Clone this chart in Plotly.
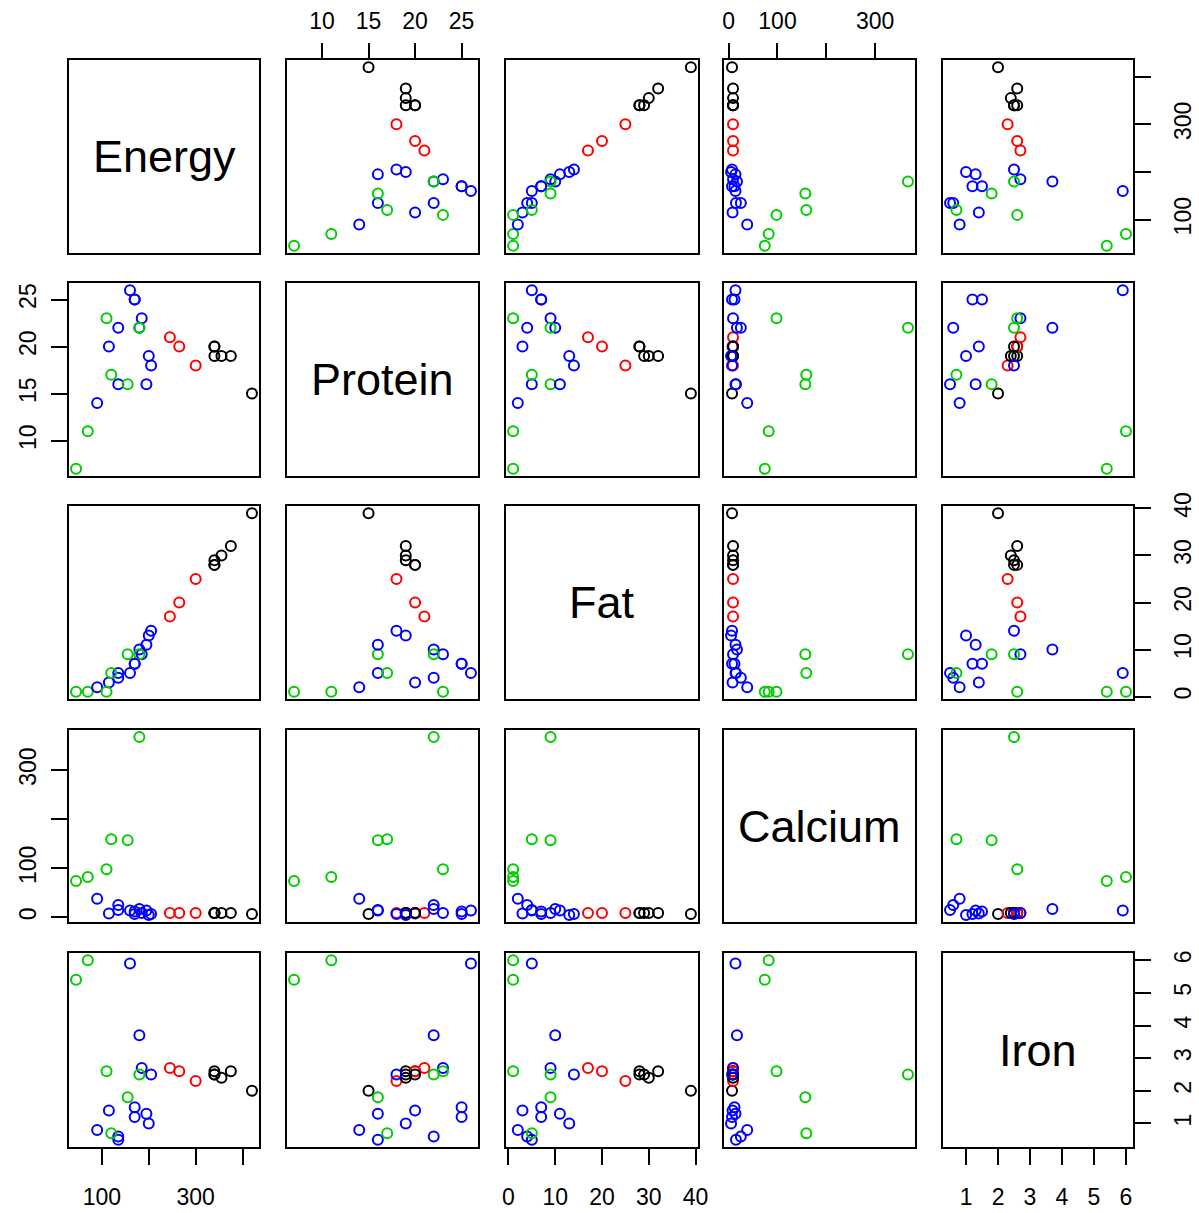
import plotly.graph_objects as go

# Nutrient data (27 foods) and cluster membership
foods = ["Beef braised", "Hamburger", "Beef roast", "Beef steak", "Beef canned",
         "Chicken broiled", "Chicken canned", "Beef heart", "Lamb leg roast",
         "Lamb shoulder roast", "Smoked ham", "Pork roast", "Pork simmered",
         "Beef tongue", "Veal cutlet", "Bluefish baked", "Clams raw", "Clams canned",
         "Crabmeat canned", "Haddock fried", "Mackerel broiled", "Mackerel canned",
         "Perch fried", "Salmon canned", "Sardines canned", "Tuna canned",
         "Shrimp canned"]
energy = [340, 245, 420, 375, 180, 115, 170, 160, 265, 300, 340, 340, 355, 205, 185,
          135, 70, 45, 90, 135, 200, 155, 195, 120, 180, 170, 110]
protein = [20, 21, 15, 19, 22, 20, 25, 26, 20, 18, 20, 19, 19, 18, 23,
           22, 11, 7, 14, 16, 19, 16, 16, 17, 22, 25, 23]
fat = [28, 17, 39, 32, 10, 3, 7, 5, 20, 25, 28, 29, 30, 14, 9,
       4, 1, 1, 2, 5, 13, 9, 11, 5, 9, 7, 1]
calcium = [9, 9, 7, 9, 17, 8, 12, 14, 9, 9, 9, 9, 9, 7, 9,
           25, 82, 74, 38, 15, 5, 157, 14, 159, 367, 7, 98]
iron = [2.6, 2.7, 2.0, 2.6, 3.7, 1.4, 1.5, 5.9, 2.6, 2.3, 2.5, 2.5, 2.4, 2.5, 2.7,
        0.6, 6.0, 5.4, 0.8, 0.5, 1.0, 1.8, 1.3, 0.7, 2.5, 1.2, 2.6]
cluster = [1, 2, 1, 1, 4, 4, 4, 4, 2, 2, 1, 1, 1, 4, 4,
           4, 3, 3, 4, 4, 4, 3, 4, 3, 3, 4, 3]

var_names = ["Energy", "Protein", "Fat", "Calcium", "Iron"]
var_data = [energy, protein, fat, calcium, iron]
tick_vals = [[100, 200, 300, 400], [10, 15, 20, 25], [0, 10, 20, 30, 40],
             [0, 100, 200, 300], [1, 2, 3, 4, 5, 6]]
tick_text = [["100", "", "300", ""], ["10", "15", "20", "25"],
             ["0", "10", "20", "30", "40"], ["0", "100", "", "300"],
             ["1", "2", "3", "4", "5", "6"]]
cluster_colors = {1: "#000000", 2: "#FF0000", 3: "#00CD00", 4: "#0000FF"}

W, H = 1199, 1213
col_px = [(69, 259), (287, 478), (506, 698), (724, 915), (943, 1133)]
row_px = [(60, 253), (283, 476), (506, 699), (730, 922), (953, 1147)]
ml, mr, mt, mb = 69, W - 1133, 60, H - 1147
pw, ph = W - ml - mr, H - mt - mb


def xdom(c):
    a, b = col_px[c]
    return [(a - ml) / pw, (b - ml) / pw]


def ydom(r):
    a, b = row_px[r]
    return [1 - (b - mt) / ph, 1 - (a - mt) / ph]


def rng(v):
    lo, hi = min(v), max(v)
    pad = (hi - lo) * 0.04
    return [lo - pad, hi + pad]


font = dict(family="Arial, Liberation Sans, sans-serif", size=23, color="#000000")
fig = go.Figure()
layout = dict(width=W, height=H, margin=dict(l=ml, r=mr, t=mt, b=mb, pad=0),
              paper_bgcolor="white", plot_bgcolor="white", showlegend=False,
              font=font, template="none")
annotations = []
colors = [cluster_colors[k] for k in cluster]

for r in range(5):
    for c in range(5):
        k = r * 5 + c + 1
        sfx = "" if k == 1 else str(k)
        xa = dict(domain=xdom(c), anchor="y" + sfx, range=rng(var_data[c]),
                  showgrid=False, zeroline=False, showline=True, mirror=True,
                  linecolor="black", linewidth=2, ticks="", showticklabels=False,
                  tickvals=tick_vals[c], ticktext=tick_text[c], fixedrange=True,
                  automargin=False)
        ya = dict(domain=ydom(r), anchor="x" + sfx, range=rng(var_data[r]),
                  showgrid=False, zeroline=False, showline=True, mirror=True,
                  linecolor="black", linewidth=2, ticks="", showticklabels=False,
                  tickvals=tick_vals[r], ticktext=tick_text[r], fixedrange=True,
                  automargin=False)
        if r == 0 and c in (1, 3):
            xa.update(side="top", ticks="outside", ticklen=15, tickwidth=2,
                      tickcolor="black", showticklabels=True, ticklabelstandoff=5)
        if r == 4 and c in (0, 2, 4):
            xa.update(side="bottom", ticks="outside", ticklen=16, tickwidth=2,
                      tickcolor="black", showticklabels=True, ticklabelstandoff=12)
        if c == 0 and r in (1, 3):
            ya.update(side="left", ticks="outside", ticklen=16, tickwidth=2,
                      tickcolor="black", showticklabels=True, tickangle=-90,
                      ticklabelstandoff=6)
        if c == 4 and r in (0, 2, 4):
            ya.update(side="right", ticks="outside", ticklen=16, tickwidth=2,
                      tickcolor="black", showticklabels=True, tickangle=-90,
                      ticklabelstandoff=12)
        layout["xaxis" + sfx] = xa
        layout["yaxis" + sfx] = ya
        if r == c:
            xd, yd = xdom(c), ydom(r)
            annotations.append(dict(text=var_names[r], xref="paper", yref="paper",
                                    x=(xd[0] + xd[1]) / 2, y=(yd[0] + yd[1]) / 2,
                                    xanchor="center", yanchor="middle",
                                    showarrow=False,
                                    font=dict(family="Arial, Liberation Sans, sans-serif",
                                              size=45, color="black")))
            fig.add_trace(go.Scatter(x=[None], y=[None], mode="markers",
                                     xaxis="x" + sfx, yaxis="y" + sfx,
                                     hoverinfo="skip"))
        else:
            fig.add_trace(go.Scatter(
                x=var_data[c], y=var_data[r], mode="markers",
                xaxis="x" + sfx, yaxis="y" + sfx, text=foods,
                marker=dict(symbol="circle-open", size=10, color=colors,
                            line=dict(width=2, color=colors)),
                hoverinfo="text+x+y"))

layout["annotations"] = annotations
fig.update_layout(**layout)
fig.write_html("out.html")
